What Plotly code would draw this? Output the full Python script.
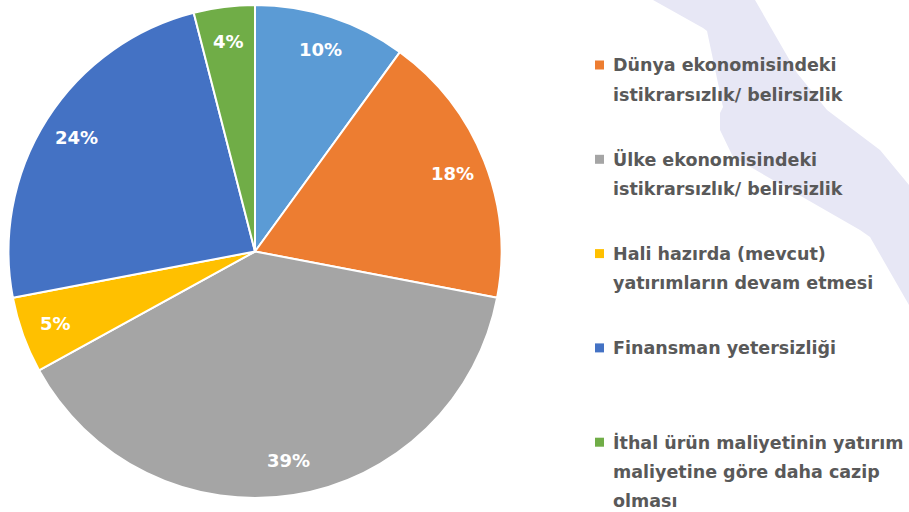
import numpy as np
import plotly.graph_objects as go

# ---- data ----
categories = [
    "Diğer",
    "Dünya ekonomisindeki istikrarsızlık/ belirsizlik",
    "Ülke ekonomisindeki istikrarsızlık/ belirsizlik",
    "Hali hazırda (mevcut) yatırımların devam etmesi",
    "Finansman yetersizliği",
    "İthal ürün maliyetinin yatırım maliyetine göre daha cazip olması",
]
values = [10, 18, 39, 5, 24, 4]
colors = ["#5B9BD5", "#ED7D31", "#A5A5A5", "#FFC000", "#4472C4", "#70AD47"]
legend_lines = [
    None,
    ["Dünya ekonomisindeki", "istikrarsızlık/ belirsizlik"],
    ["Ülke ekonomisindeki", "istikrarsızlık/ belirsizlik"],
    ["Hali hazırda (mevcut)", "yatırımların devam etmesi"],
    ["Finansman yetersizliği"],
    ["İthal ürün maliyetinin yatırım", "maliyetine göre daha cazip", "olması"],
]

W, H = 909, 512
FONT = "DejaVu Sans"

def px(x, y):
    return x / W, 1 - y / H

# pie domain (pixels)
x0, x1, y0, y1 = 8, 502, 5, 498
cx, cy = (x0 + x1) / 2, (y0 + y1) / 2
R = min(x1 - x0, y1 - y0) / 2

fig = go.Figure()
fig.add_trace(go.Pie(
    labels=categories, values=values, sort=False, direction="clockwise", rotation=0,
    marker=dict(colors=colors, line=dict(color="white", width=2)),
    textinfo="none", showlegend=False, hoverinfo="label+percent",
    domain=dict(x=[x0 / W, x1 / W], y=[1 - y1 / H, 1 - y0 / H]),
))

annotations = []
total = sum(values)
cum = np.cumsum([0] + values[:-1])
for v, c in zip(values, cum):
    theta = 2 * np.pi * (c + v / 2) / total
    r = 0.86 * R
    lx, ly = px(cx + r * np.sin(theta), cy - r * np.cos(theta))
    annotations.append(dict(
        x=lx, y=ly, xref="paper", yref="paper", showarrow=False,
        text=f"{round(100 * v / total)}%",
        font=dict(family=FONT, size=18, color="white", weight=700),
        xanchor="center", yanchor="middle",
    ))

shapes = []
band = [(653, 0), (755, 0), (797, 73), (827, 110), (880, 150), (909, 185), (909, 305),
        (870, 237), (860, 230), (733, 157), (720, 130), (720, 113), (723, 107),
        (707, 31), (703, 28)]
path = "M " + " L ".join(f"{px(a, b)[0]:.4f},{px(a, b)[1]:.4f}" for a, b in band) + " Z"
shapes.append(dict(type="path", path=path, xref="paper", yref="paper",
                   fillcolor="#E7E7F5", line=dict(width=0), layer="below"))

item = 0
for lines, col in zip(legend_lines, colors):
    if lines is None:
        continue
    ytop = 65 + item * 94.3
    sx0, sy0 = px(595, ytop - 4.5)
    sx1, sy1 = px(604, ytop + 4.5)
    shapes.append(dict(type="rect", xref="paper", yref="paper", x0=sx0, x1=sx1,
                       y0=sy1, y1=sy0, fillcolor=col, line=dict(width=0)))
    for j, t in enumerate(lines):
        tx, ty = px(611, ytop + j * 29.5)
        annotations.append(dict(
            x=tx, y=ty, xref="paper", yref="paper", showarrow=False, text=t,
            font=dict(family=FONT, size=17.5, color="#595959", weight=700),
            xanchor="left", yanchor="middle",
        ))
    item += 1

fig.update_layout(
    width=W, height=H, margin=dict(l=0, r=0, t=0, b=0),
    paper_bgcolor="white", plot_bgcolor="white",
    annotations=annotations, shapes=shapes, showlegend=False,
)
fig.write_html("out.html", config={"displayModeBar": False},
               post_script="document.body.style.margin='0';")
